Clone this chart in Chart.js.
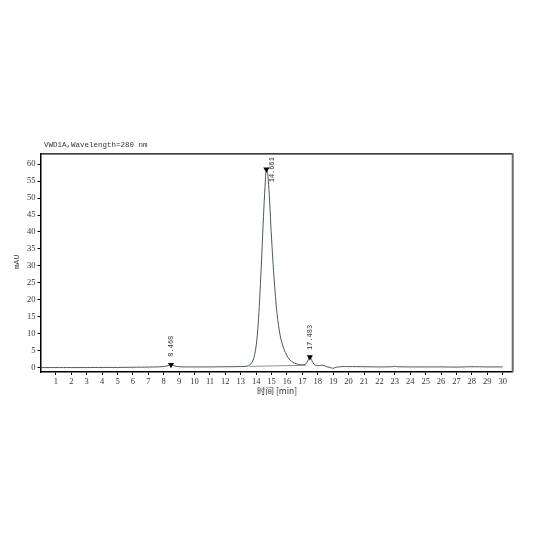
<!DOCTYPE html>
<html>
<head>
<meta charset="utf-8">
<script src="https://cdn.jsdelivr.net/npm/chart.js@4/dist/chart.umd.min.js"></script>
<style>
html,body{margin:0;padding:0;background:#fff;}
#wrap{width:533px;height:533px;position:relative;}
</style>
</head>
<body>
<div id="wrap"><canvas id="c" width="533" height="533"></canvas></div>
<script>
// ---- data ----
const signalTime = [0,1,2,3,4,5,6,7,7.5,8.0,8.3,8.468,8.7,9.0,9.5,10,11,12,13,13.4,13.6,13.8,13.9,14.0,14.1,14.2,14.3,14.4,14.5,14.6,14.661,14.75,14.85,14.95,15.05,15.15,15.25,15.35,15.45,15.6,15.8,16.0,16.2,16.4,16.6,16.8,17.0,17.2,17.35,17.483,17.6,17.75,17.9,18.1,18.3,18.5,18.8,19.0,19.2,19.6,20,21,22,22.8,23.0,23.2,24,25,26,27,28,29,30];
const signalmAU  = [0.0,0.0,0.0,0.0,0.05,0.05,0.1,0.15,0.2,0.3,0.6,0.85,0.5,0.25,0.2,0.2,0.2,0.25,0.3,0.4,0.8,2.2,3.8,6.5,11,18,27,37,47,55.5,58.5,57,51,42,34,27,21,16,12.5,8.5,5.5,3.5,2.2,1.5,1.1,0.9,0.8,1.0,2.0,3.1,2.2,1.0,0.6,0.6,0.7,0.4,0.0,-0.2,0.1,0.3,0.3,0.25,0.2,0.25,0.4,0.25,0.2,0.2,0.2,0.15,0.25,0.2,0.2];
const baselineTime = [13.6,17.25];
const baselinemAU  = [0.35,0.7];
const peakTimes  = [8.468,14.661,17.483];
const peakHeights= [0.85,58.5,3.1];
const peakLabels = ["8.468","14.661","17.483"];
const xTicks = [1,2,3,4,5,6,7,8,9,10,11,12,13,14,15,16,17,18,19,20,21,22,23,24,25,26,27,28,29,30];
const yTicks = [0,5,10,15,20,25,30,35,40,45,50,55,60];
const titleText = "VWD1A,Wavelength=280 nm";
const xTitle = "时间 [min]";
const yTitle = "mAU";

const signal = signalTime.map((t,i)=>({x:t,y:signalmAU[i]}));
const baseline = baselineTime.map((t,i)=>({x:t,y:baselinemAU[i]}));
const peaks = peakTimes.map((t,i)=>({x:t,y:peakHeights[i]}));

const decor = {
  id:'decor',
  afterDraw(chart){
    const {ctx, chartArea:a, scales:{x,y}} = chart;
    ctx.save();
    // frame top and right
    ctx.strokeStyle='#000'; ctx.lineWidth=1.2;
    ctx.beginPath(); ctx.moveTo(a.left,a.top+0.5); ctx.lineTo(a.right,a.top+0.5); ctx.stroke();
    ctx.strokeStyle='#6a6a6a'; ctx.lineWidth=2;
    ctx.beginPath(); ctx.moveTo(a.right,a.top); ctx.lineTo(a.right,a.bottom); ctx.stroke();
    // title
    ctx.fillStyle='#333'; ctx.font='7.5px "Liberation Mono"'; ctx.textBaseline='middle'; ctx.textAlign='left';
    ctx.fillText(titleText,44,145);
    // x title
    ctx.textAlign='center'; ctx.textBaseline='alphabetic';
    ctx.font='8.5px "Noto Sans CJK SC"';
    ctx.fillText(xTitle,277,394);
    // y title
    ctx.save(); ctx.translate(17,262); ctx.rotate(-Math.PI/2);
    ctx.textBaseline='middle';
    ctx.font='8px "Liberation Mono"'; ctx.fillText(yTitle,0,0); ctx.restore();
    // peak labels
    ctx.font='7px "Liberation Mono"'; ctx.fillStyle='#333';
    const offs = [[0,-8],[6,0],[0,-7]];
    peaks.forEach((p,i)=>{
      let px = x.getPixelForValue(p.x), py = y.getPixelForValue(p.y);
      ctx.save();
      let tx = px + offs[i][0], ty = py + offs[i][1];
      if(i===1){ ty = a.top + 29; }
      ctx.translate(tx,ty); ctx.rotate(-Math.PI/2);
      ctx.textAlign='left'; ctx.textBaseline='middle';
      ctx.fillText(peakLabels[i],0,0);
      ctx.restore();
    });
    ctx.restore();
  }
};

new Chart(document.getElementById('c'),{
  type:'line',
  data:{datasets:[
    {data:signal,borderColor:'#4a5860',borderWidth:1,pointRadius:0,tension:0.3,order:2},
    {data:baseline,borderColor:'#6a7880',borderWidth:0.8,pointRadius:0,tension:0,order:3},
    {type:'scatter',data:peaks,pointStyle:'triangle',rotation:180,pointRadius:3.5,pointBackgroundColor:'#000',pointBorderColor:'#000',borderWidth:0,order:1,
     pointHoverRadius:3.5}
  ]},
  plugins:[decor],
  options:{
    responsive:false,animation:false,
    layout:{padding:{left:0,right:20.3,top:153.3,bottom:132}},
    plugins:{legend:{display:false},tooltip:{enabled:false}},
    elements:{point:{radius:0}},
    scales:{
      x:{type:'linear',min:0,max:30.65,
        afterBuildTicks(s){s.ticks=xTicks.map(v=>({value:v}));},
        afterFit(s){s.height=29;},
        grid:{display:true,drawOnChartArea:false,tickLength:3,color:'#000',lineWidth:1},
        border:{display:true,color:'#000',width:1.5},
        ticks:{color:'#333',font:{family:'"Liberation Serif"',size:8.5},padding:2,maxRotation:0,autoSkip:false}
      },
      y:{type:'linear',min:-1.3,max:63.2,
        afterBuildTicks(s){s.ticks=yTicks.map(v=>({value:v}));},
        afterFit(s){s.width=40.5;},
        grid:{display:true,drawOnChartArea:false,tickLength:3,color:'#000',lineWidth:1},
        border:{display:true,color:'#000',width:1.5},
        ticks:{color:'#333',font:{family:'"Liberation Serif"',size:8.5},padding:2,autoSkip:false}
      }
    }
  }
});
</script>
</body>
</html>
